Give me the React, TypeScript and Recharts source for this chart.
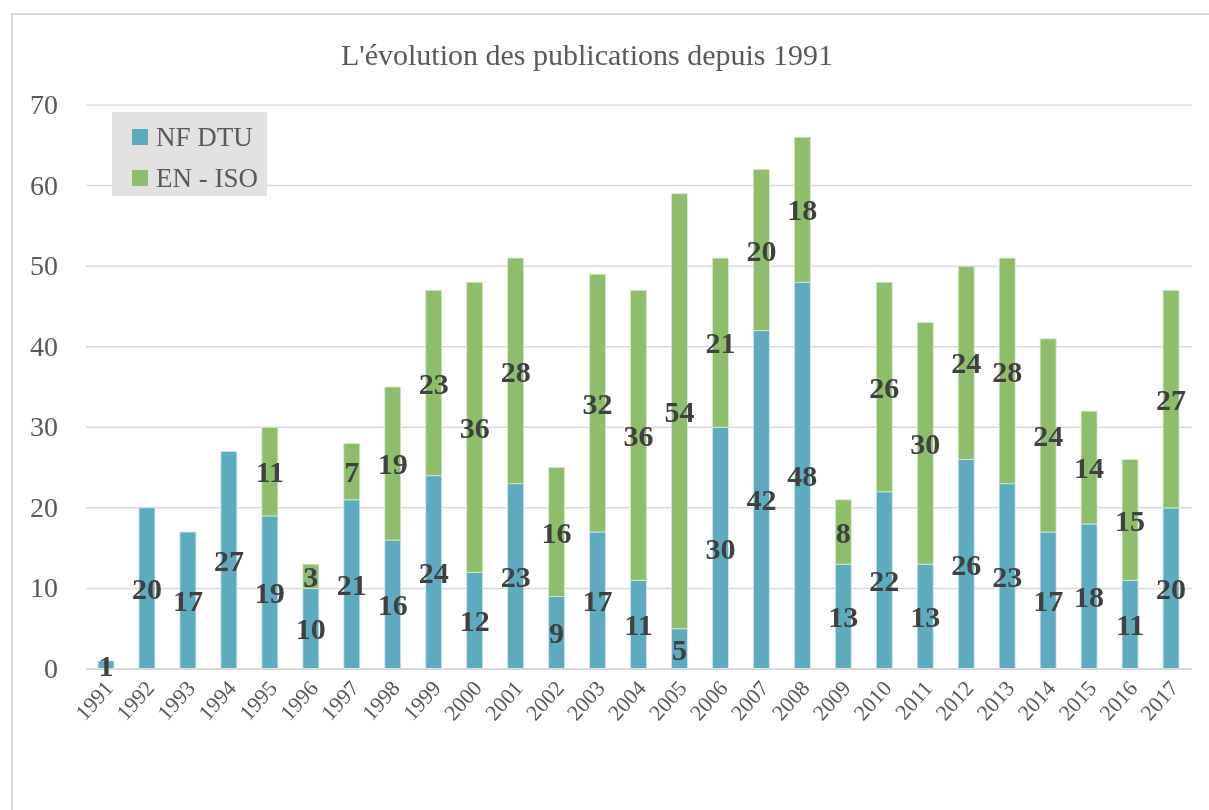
import { BarChart, Bar, XAxis, YAxis, CartesianGrid, LabelList } from 'recharts';

const years = [
  '1991', '1992', '1993', '1994', '1995', '1996', '1997', '1998', '1999',
  '2000', '2001', '2002', '2003', '2004', '2005', '2006', '2007', '2008',
  '2009', '2010', '2011', '2012', '2013', '2014', '2015', '2016', '2017',
];
const nfDtu = [1, 20, 17, 27, 19, 10, 21, 16, 24, 12, 23, 9, 17, 11, 5, 30, 42, 48, 13, 22, 13, 26, 23, 17, 18, 11, 20];
const enIso = [0, 0, 0, 0, 11, 3, 7, 19, 23, 36, 28, 16, 32, 36, 54, 21, 20, 18, 8, 26, 30, 24, 28, 24, 14, 15, 27];
const yTicks = [0, 10, 20, 30, 40, 50, 60, 70];

const BLUE = '#5eaabf';
const GREEN = '#8ebd6c';
const SERIF = '"Liberation Serif", "DejaVu Serif", serif';

const data = years.map((year, i) => ({ year, nf: nfDtu[i], en: enIso[i] }));

const YTick = ({ y, payload }: any) => (
  <text x={50} y={y} dy={9} textAnchor="end" fill="#595959" fontSize={28} fontFamily={SERIF}>
    {payload.value}
  </text>
);

const XTick = ({ x, y, payload }: any) => (
  <text
    x={x + 8}
    y={y + 12}
    textAnchor="end"
    fill="#595959"
    fontSize={22}
    fontFamily={SERIF}
    transform={`rotate(-48 ${x + 8} ${y + 12})`}
  >
    {payload.value}
  </text>
);

const hideZero = (v: any) => (v ? v : '');

export default function App() {
  return (
    <div style={{ position: 'relative', width: 1193, height: 794 }}>
      <div
        style={{
          position: 'fixed',
          left: 11,
          top: 13,
          width: 1198,
          height: 797,
          borderLeft: '2px solid #d9d9d9',
          borderTop: '2px solid #d9d9d9',
          boxSizing: 'border-box',
        }}
      />
      <BarChart
        width={1193}
        height={794}
        data={data}
        margin={{ top: 97, right: 9, left: 18, bottom: 73 }}
        barSize={16}
        style={{ position: 'absolute', left: 0, top: 0 }}
      >
        <text x={579} y={57} textAnchor="middle" fill="#595959" fontSize={30} fontFamily={SERIF}>
          L'évolution des publications depuis 1991
        </text>
        <CartesianGrid vertical={false} stroke="#d9d9d9" strokeWidth={1.5} />
        <XAxis
          dataKey="year"
          interval={0}
          height={60}
          tickLine={false}
          axisLine={{ stroke: '#d9d9d9', strokeWidth: 2 }}
          tick={<XTick />}
        />
        <YAxis
          width={60}
          domain={[0, 70]}
          ticks={yTicks}
          axisLine={false}
          tickLine={false}
          tick={<YTick />}
        />
        <Bar dataKey="nf" stackId="a" fill={BLUE} stroke="#d6ebf1" strokeWidth={0.8} isAnimationActive={false}>
          <LabelList dataKey="nf" position="center" fill="#404040" fontSize={30} fontWeight="bold" fontFamily={SERIF} />
        </Bar>
        <Bar dataKey="en" stackId="a" fill={GREEN} stroke="#dcebd1" strokeWidth={0.8} isAnimationActive={false}>
          <LabelList
            dataKey="en"
            position="center"
            formatter={hideZero}
            fill="#404040"
            fontSize={30}
            fontWeight="bold"
            fontFamily={SERIF}
          />
        </Bar>
      </BarChart>
      <div
        style={{
          position: 'absolute',
          left: 104,
          top: 104,
          width: 155,
          height: 84,
          background: '#e3e2e1',
          fontFamily: SERIF,
          fontSize: 27,
          color: '#595959',
        }}
      >
        {[
          { name: 'NF DTU', color: BLUE },
          { name: 'EN - ISO', color: GREEN },
        ].map((item, i) => (
          <div
            key={item.name}
            style={{ position: 'absolute', left: 20, top: 8 + i * 41, height: 34, display: 'flex', alignItems: 'center', whiteSpace: 'nowrap' }}
          >
            <span style={{ display: 'inline-block', width: 16, height: 16, background: item.color, marginRight: 8 }} />
            {item.name}
          </div>
        ))}
      </div>
    </div>
  );
}
